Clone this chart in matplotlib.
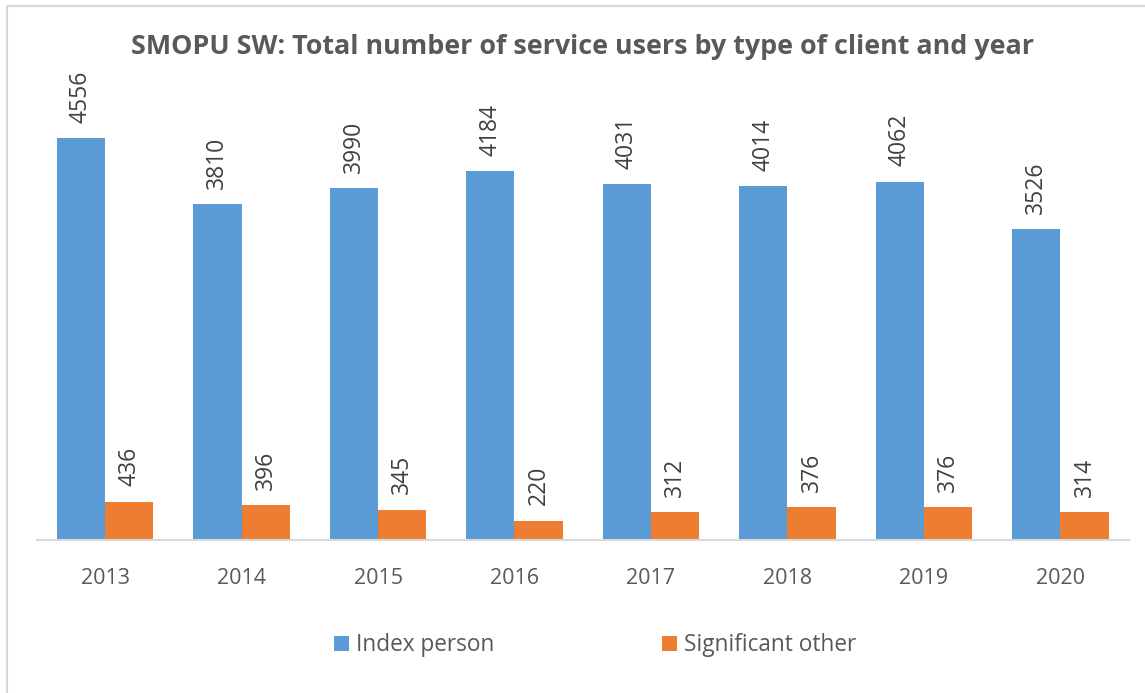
import numpy as np
import matplotlib.pyplot as plt
from matplotlib.lines import Line2D

# service users per year, split by client type
years = ["2013", "2014", "2015", "2016", "2017", "2018", "2019", "2020"]
index_person = [4556, 3810, 3990, 4184, 4031, 4014, 4062, 3526]
significant_other = [436, 396, 345, 220, 312, 376, 376, 314]

BLUE = "#5B9BD5"
ORANGE = "#ED7D31"
TEXT = "#595959"

plt.rcParams["font.family"] = ["Open Sans", "DejaVu Sans"]

fig = plt.figure(figsize=(11.45, 6.93), dpi=100)
ax = fig.add_axes([0.0321, 0.2208, 0.9537, 0.6363])

x = np.arange(len(years))
w = 0.355
b1 = ax.bar(x - w / 2, index_person, w, color=BLUE, label="Index person")
b2 = ax.bar(x + w / 2, significant_other, w, color=ORANGE, label="Significant other")

for bars, vals in ((b1, index_person), (b2, significant_other)):
    for r, v in zip(bars, vals):
        ax.annotate(str(v), (r.get_x() + r.get_width() / 2, v),
                    xytext=(0, 11), textcoords="offset points",
                    rotation=90, ha="center", va="bottom",
                    fontsize=16.5, color="#404040")

ax.set_xlim(-0.5, len(years) - 0.5)
ax.set_ylim(0, 5000)
ax.set_xticks(x)
ax.set_xticklabels(years, fontsize=15.5, color=TEXT)
ax.tick_params(axis="x", length=0, pad=20)
ax.set_yticks([])
for s in ("top", "right", "left"):
    ax.spines[s].set_visible(False)
ax.spines["bottom"].set_color("#D9D9D9")
ax.spines["bottom"].set_linewidth(1.5)

fig.text(0.509, 0.932, "SMOPU SW: Total number of service users by type of client and year",
         ha="center", va="center", fontsize=19.4, fontweight="bold", color=TEXT)

leg = fig.legend(handles=[b1, b2], loc="center", bbox_to_anchor=(0.52, 0.069),
                 ncol=2, frameon=False, fontsize=16.3, handlelength=0.66,
                 handleheight=0.66, handletextpad=0.31, columnspacing=7.4)
for t in leg.get_texts():
    t.set_color(TEXT)

# chart border (left and top edges)
fig.add_artist(Line2D([0.0065, 0.0065, 1.0], [0.0, 0.991, 0.991],
                      transform=fig.transFigure, color="#D9D9D9", linewidth=1.5))

fig.savefig("out.png", dpi=100)
